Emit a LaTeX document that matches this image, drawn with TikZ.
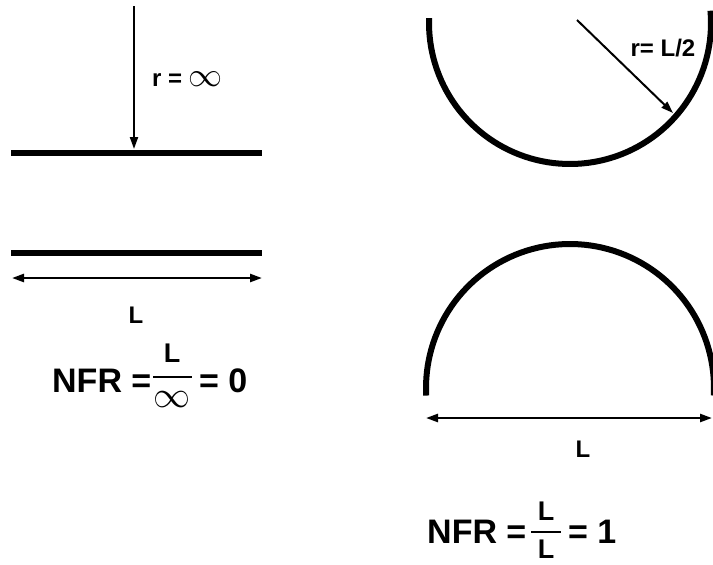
\documentclass[tikz,border=0pt]{standalone}
\usepackage{fix-cm}
\usepackage{fontspec}
\setmainfont{Liberation Sans}
\usetikzlibrary{arrows.meta}

\begin{document}
\begin{tikzpicture}[x=1pt, y=-1pt,
    plate/.style={line width=6pt},
    ray/.style={line width=2pt, -{Triangle[length=12pt, width=8pt]}},
    dim/.style={line width=2.5pt, {Triangle[length=12pt, width=8pt]}-{Triangle[length=12pt, width=8pt]}},
    bar/.style={line width=2.5pt},
    lbl/.style={font=\fontsize{24}{28}\selectfont\bfseries, inner sep=0pt},
    eq/.style={font=\fontsize{34}{38}\selectfont\bfseries, inner sep=0pt},
    frc/.style={font=\fontsize{27}{30}\selectfont\bfseries, inner sep=0pt}
]
\clip (0,0) rectangle (713,565);

% flat plate, r = infinity
\coordinate (rayA) at (134,6);
\coordinate (hitA) at (134,149);
\coordinate (plA1) at (11,153);
\coordinate (plA2) at (262,153);
\draw[plate] (plA1) -- (plA2);
\draw[ray] (rayA) -- (hitA);
\node[lbl, anchor=west] (rinf) at (152,79) {r = {\fontsize{34}{38}\selectfont$\infty$}};

\coordinate (plB1) at (11,253);
\coordinate (plB2) at (262,253);
\draw[plate] (plB1) -- (plB2);
\coordinate (lenA1) at (12,278);
\coordinate (lenA2) at (262,278);
\draw[dim] (lenA1) -- (lenA2);
\node[lbl] (lenA) at (136,315) {L};

% left result
\node[eq, anchor=base west] (nfrA) at (52,392) {NFR =};
\coordinate (barA1) at (153,377);
\coordinate (barA2) at (192,377);
\draw[bar] (barA1) -- (barA2);
\node[frc] (numA) at (172,353) {L};
\node[frc, font=\fontsize{37}{40}\selectfont] (denA) at (172,400) {$\infty$};
\node[eq, anchor=base west] (resA) at (199,392) {= 0};

% half circle, r = L/2
\draw[plate] plot[domain=-5:182, samples=80] ({570+141*cos(\x)}, {23+141*sin(\x)});
\coordinate (rayB) at (577,20);
\coordinate (hitB) at (673,113);
\draw[ray] (rayB) -- (hitB);
\node[lbl] (rhalf) at (663,48) {r= L/2};

\draw[plate] plot[domain=177:363, samples=80] ({570+144*cos(\x)}, {388+144*sin(\x)});
\coordinate (lenB1) at (426,418);
\coordinate (lenB2) at (712,418);
\draw[dim] (lenB1) -- (lenB2);
\node[lbl] (lenB) at (583,449) {L};

% right result
\node[eq, anchor=base west] (nfrB) at (427,543) {NFR =};
\coordinate (barB1) at (531,532);
\coordinate (barB2) at (561,532);
\draw[bar] (barB1) -- (barB2);
\node[frc] (numB) at (546,511) {L};
\node[frc] (denB) at (546,549) {L};
\node[eq, anchor=base west] (resB) at (568,543) {= 1};
\end{tikzpicture}
\end{document}
